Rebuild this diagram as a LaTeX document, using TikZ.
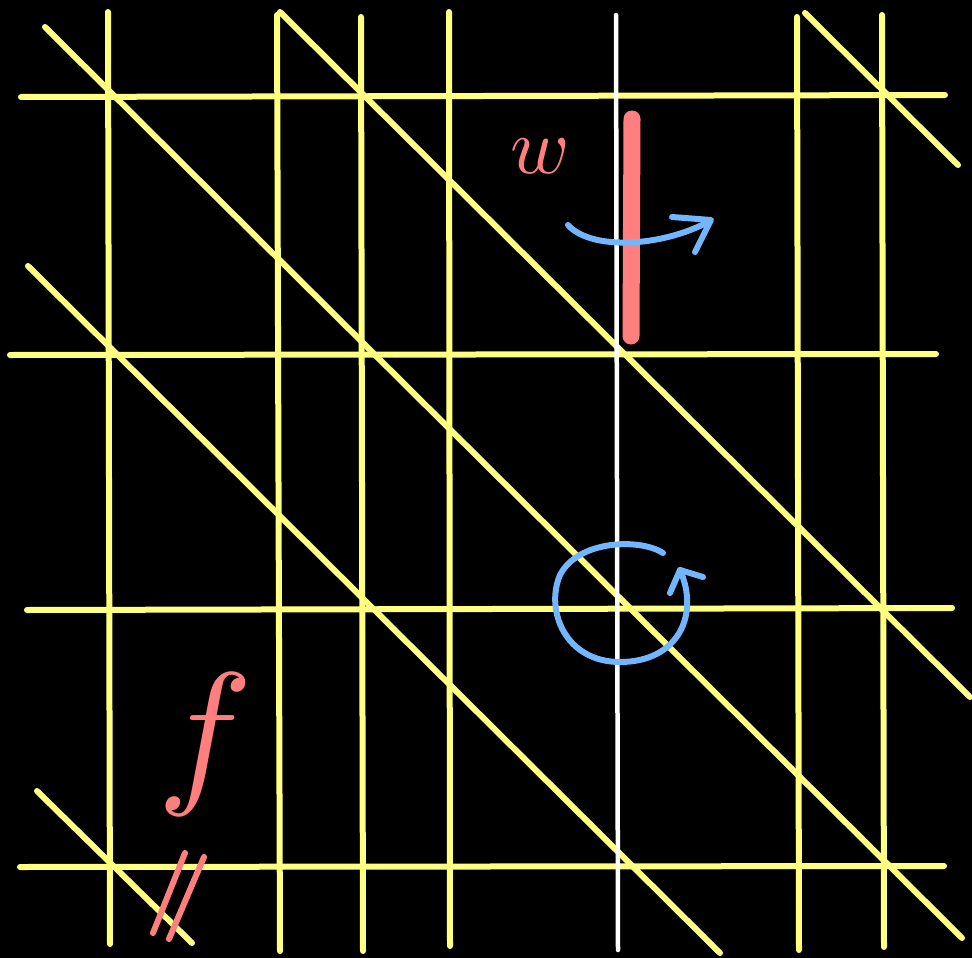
\documentclass[tikz,border=0pt]{standalone}
\usepackage{tikz}
\usepackage{graphicx}
\definecolor{gridyellow}{HTML}{FFFF80}
\definecolor{markred}{HTML}{FF7F7F}
\definecolor{markblue}{HTML}{72B6FF}
\tikzset{
  gridline/.style={draw=gridyellow, line width=6pt, line cap=round},
  axisline/.style={draw=white, line width=4.5pt, line cap=round},
  redmark/.style={draw=markred, line width=6pt, line cap=round, line join=round},
  bluemark/.style={draw=markblue, line width=6pt, line cap=round, line join=round},
  label/.style={text=markred, inner sep=0pt, outer sep=0pt}
}
\begin{document}
\begin{tikzpicture}[x=1pt,y=-1pt]
\fill[black] (0,0) rectangle (972,958);
\useasboundingbox (0,0) rectangle (972,958);
% vertical lines
\draw[gridline] (108,12) -- (110,944);
\draw[gridline] (277,15) -- (280,951);
\draw[gridline] (361,17) -- (363,951);
\draw[gridline] (449,12) -- (450,946);
\draw[gridline] (797,17) -- (799,950);
\draw[gridline] (882,15) -- (884,947);
% horizontal lines
\draw[gridline] (21,97) -- (945,95);
\draw[gridline] (10,355) -- (936,354);
\draw[gridline] (27,610) -- (952,608);
\draw[gridline] (20,867) -- (944,866);
% diagonal lines
\draw[gridline] (45,27) -- (962,938);
\draw[gridline] (280,12) -- (970,697);
\draw[gridline] (805,13) -- (958,165);
\draw[gridline] (28,266) -- (720,953);
\draw[gridline] (37,791) -- (192,943);
% white axis
\draw[axisline] (616,15) -- (618,950);
% red bar
\draw[draw=markred, line width=17pt, line cap=round] (632,119) -- (631,336);
% rotation arrow around bar
\draw[bluemark] (568,225) .. controls (590,250) and (660,248) .. (710,221);
\draw[bluemark] (672,217) -- (711,220) -- (695,252);
% circular arrow
\draw[bluemark] (663,553) .. controls (640,538) and (578,540) .. (560,575)
  .. controls (545,610) and (565,662) .. (620,662)
  .. controls (678,662) and (700,615) .. (680,570);
\draw[bluemark] (670,593) -- (680,570) -- (703,577);
% letters
\node[label] (w) at (540,156) {\scalebox{8}{$w$}};
\node[label] (f) at (205,744) {\scalebox{16}{$f$}};
% double slash
\draw[redmark] (153,933) -- (185,853);
\draw[redmark] (169,939) -- (204,857);
\end{tikzpicture}
\end{document}
